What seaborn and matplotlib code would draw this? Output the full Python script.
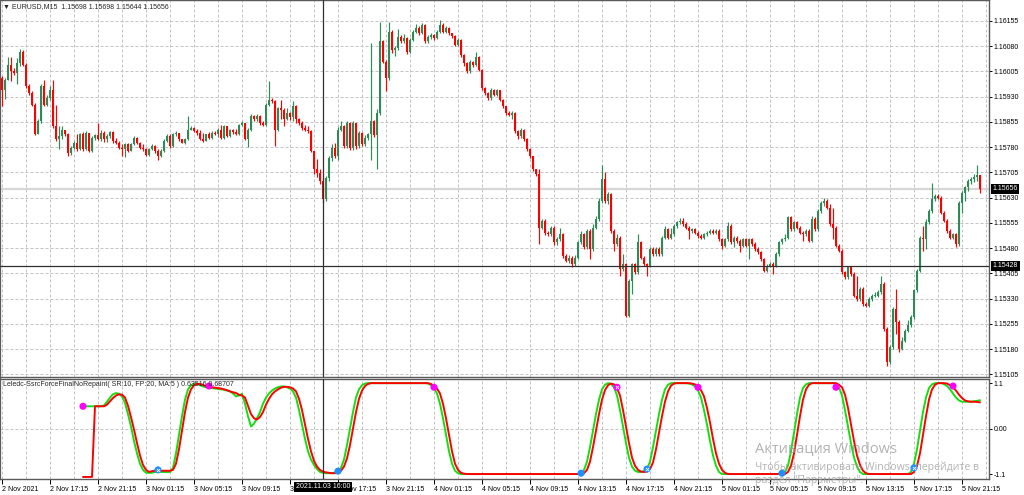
import matplotlib
matplotlib.use("Agg")
import matplotlib.pyplot as plt
import numpy as np
import pandas as pd
import seaborn as sns

# ---- price data: EURUSD M15, values in 1e-5 above 1.15000 ----
FIRST_OPEN = 985
close_pts = [
    951, 980, 1025, 1005, 1000, 1030, 1064, 1025, 961, 941,
    906, 818, 857, 961, 906, 926, 951, 842, 803, 813,
    832, 818, 763, 778, 793, 773, 818, 773, 822, 768,
    808, 815, 803, 822, 803, 813, 824, 798, 793, 778,
    773, 788, 768, 788, 808, 793, 778, 773, 758, 773,
    783, 768, 753, 768, 798, 813, 783, 818, 822, 803,
    793, 803, 832, 837, 827, 822, 803, 798, 818, 808,
    822, 818, 832, 808, 842, 813, 832, 825, 818, 847,
    852, 803, 832, 872, 862, 872, 852, 847, 906, 921,
    916, 832, 896, 891, 862, 880, 870, 901, 862, 852,
    837, 832, 827, 768, 714, 704, 679, 625,
    689, 748, 778, 753, 832, 842, 783, 852, 778, 852,
    783, 822, 788, 808, 818, 857, 817, 881, 1094, 1034,
    985, 1123, 1069, 1074, 1108, 1094, 1104, 1064, 1099, 1123,
    1133, 1118, 1143, 1094, 1108, 1113, 1104, 1123, 1143, 1123,
    1133, 1118, 1110, 1084, 1099, 1054, 1029, 1005, 1034, 1024,
    1049, 1010, 955, 940, 926, 951, 936, 949, 921, 901,
    881, 876, 881, 827, 812, 832, 803, 773, 753, 714,
    699, 541,
    561, 526, 521, 541, 497, 506, 521, 457, 442, 452,
    432, 452, 497, 521, 482, 531, 477, 541, 566, 620,
    684, 620, 640, 531, 492, 511, 418, 432, 279, 383,
    432, 408, 497, 452, 432, 428, 477, 462, 477, 462,
    511, 536, 511, 521, 546, 556, 561, 551, 541, 531,
    536, 526, 516, 511, 521, 526, 531, 526, 531, 506,
    487, 506, 546, 497, 511, 501, 487, 506, 487, 506,
    492, 477, 467, 447, 413, 428, 433, 428, 462, 497,
    506, 511, 571, 536, 556, 541, 526, 521, 531, 502,
    566, 536, 590, 615, 620, 600, 551, 541, 487, 472,
    408, 393, 423, 403, 339, 329, 359, 314, 309, 329,
    339, 339, 349, 373, 240, 141, 186, 299, 260, 181,
    205, 235, 250, 275, 354, 413, 511, 506, 556, 590,
    625, 635, 630, 585, 561, 531, 511, 521, 492, 615,
    645, 660, 679, 684, 690, 698, 656,
]
high_pts = [
    990, 985, 1049, 1049, 1015, 1045, 1071, 1069, 1030, 966,
    946, 911, 862, 966, 980, 936, 961, 980, 906, 842,
    842, 832, 822, 783, 798, 818, 822, 824, 827, 795,
    813, 820, 852, 832, 827, 818, 827, 827, 808, 798,
    788, 793, 791, 791, 813, 811, 795, 788, 778, 778,
    788, 785, 773, 773, 803, 818, 818, 822, 827, 820,
    805, 808, 872, 842, 840, 834, 832, 822, 820, 824,
    827, 829, 837, 847, 847, 844, 834, 835, 834, 850,
    857, 850, 837, 877, 874, 877, 874, 857, 911, 975,
    926, 921, 899, 921, 896, 896, 885, 916, 906, 867,
    857, 847, 842, 832, 745, 745, 715, 690,
    695, 755, 790, 793, 840, 857, 845, 857, 855, 857,
    823, 827, 825, 815, 822, 1089, 860, 893, 1153, 1098,
    1040, 1153, 1128, 1080, 1130, 1112, 1115, 1108, 1103, 1128,
    1146, 1140, 1150, 1145, 1112, 1118, 1115, 1128, 1158, 1148,
    1140, 1138, 1120, 1112, 1103, 1100, 1056, 1032, 1040, 1036,
    1062, 1052, 1012, 958, 945, 956, 954, 954, 951, 924,
    903, 886, 886, 883, 830, 837, 834, 806, 776, 755,
    716, 714,
    566, 565, 530, 546, 546, 512, 541, 526, 462, 458,
    457, 458, 502, 531, 526, 536, 536, 551, 575, 630,
    726, 706, 648, 645, 536, 521, 516, 462, 437, 388,
    437, 437, 521, 502, 457, 437, 482, 482, 482, 482,
    516, 546, 541, 541, 551, 561, 570, 570, 556, 545,
    541, 541, 531, 521, 526, 531, 536, 536, 536, 536,
    511, 511, 556, 551, 516, 516, 506, 511, 511, 511,
    511, 497, 482, 472, 452, 433, 438, 438, 467, 502,
    511, 521, 576, 576, 561, 561, 546, 531, 536, 536,
    576, 571, 595, 620, 630, 625, 610, 600, 546, 492,
    477, 413, 428, 428, 408, 398, 364, 364, 319, 334,
    344, 349, 354, 398, 378, 245, 191, 304, 359, 265,
    215, 240, 265, 280, 359, 418, 516, 546, 566, 595,
    674, 640, 640, 635, 590, 566, 536, 526, 526, 620,
    650, 665, 684, 690, 700, 726, 698,
]
low_pts = [
    903, 924, 988, 975, 995, 966, 1020, 1020, 956, 936,
    901, 815, 818, 852, 901, 901, 921, 837, 798, 773,
    803, 813, 753, 758, 773, 768, 771, 768, 771, 765,
    765, 800, 801, 798, 795, 795, 808, 793, 788, 773,
    753, 751, 765, 768, 785, 788, 773, 768, 755, 753,
    770, 763, 743, 751, 765, 795, 778, 781, 813, 798,
    791, 790, 801, 830, 824, 817, 801, 795, 798, 805,
    805, 815, 811, 805, 805, 811, 811, 818, 815, 815,
    844, 801, 781, 827, 857, 859, 847, 844, 844, 903,
    911, 783, 827, 862, 842, 860, 860, 857, 852, 847,
    832, 827, 822, 765, 700, 690, 670, 615,
    620, 680, 740, 748, 743, 828, 778, 778, 770, 770,
    775, 778, 782, 784, 800, 743, 810, 714, 875, 1030,
    946, 980, 1060, 1050, 1068, 1088, 1088, 1058, 1060, 1095,
    1118, 1112, 1115, 1088, 1090, 1102, 1098, 1100, 1120, 1118,
    1118, 1112, 1105, 1080, 1080, 1048, 1020, 1000, 1000, 1019,
    1020, 1005, 950, 935, 921, 921, 931, 931, 916, 896,
    876, 871, 862, 822, 805, 807, 798, 768, 748, 709,
    694, 492,
    536, 520, 515, 515, 490, 490, 500, 450, 438, 437,
    425, 428, 447, 492, 477, 476, 447, 472, 536, 561,
    615, 615, 610, 526, 470, 487, 398, 413, 274, 274,
    344, 403, 403, 447, 427, 398, 423, 457, 457, 457,
    457, 506, 506, 506, 516, 541, 551, 546, 536, 506,
    526, 521, 511, 506, 506, 516, 521, 521, 521, 501,
    477, 482, 501, 492, 482, 496, 467, 482, 482, 447,
    487, 472, 462, 442, 408, 408, 423, 403, 423, 457,
    492, 501, 506, 531, 531, 536, 521, 502, 516, 497,
    497, 531, 531, 585, 605, 595, 546, 507, 482, 467,
    403, 388, 388, 398, 334, 324, 324, 309, 304, 304,
    324, 334, 334, 344, 235, 131, 136, 181, 225, 171,
    176, 200, 230, 245, 270, 349, 408, 472, 476, 551,
    585, 620, 625, 580, 556, 526, 506, 506, 482, 487,
    585, 620, 650, 670, 675, 680, 644,
]

# ---- indicator window (starts at bar 27) ----
IND_START = 27
green_line = (
    [0.54] * 7
    + [0.56, 0.65, 0.75, 0.83, 0.86, 0.84, 0.78, 0.62, 0.35, 0.05, -0.3, -0.6,
       -0.85, -1.0, -1.07, -1.07, -1.07]
    + [-1.05] * 6
    + [-0.95, -0.6, -0.15, 0.3, 0.7, 0.95, 1.05, 1.08, 1.08, 1.05, 1.02]
    + [1.0, 0.99, 0.98, 0.97, 0.96, 0.95, 0.94, 0.92]
    + [0.9, 0.85, 0.78, 0.8, 0.84, 0.6, 0.3, 0.05, 0.12, 0.25, 0.4, 0.6, 0.75,
       0.85, 0.92, 0.97, 1.0, 1.02, 1.02, 1.0, 0.97, 0.9, 0.75, 0.45, 0.1,
       -0.25, -0.55, -0.75, -0.88, -0.98, -1.05, -1.07, -1.08, -1.08, -1.08,
       -1.06, -1.03, -0.95, -0.75, -0.4, 0.0, 0.4, 0.75, 0.95, 1.05, 1.09]
    + [1.1] * 20
    + [1.09, 1.05, 0.98, 0.85, 0.6, 0.25, -0.15, -0.55, -0.85, -1.02, -1.08]
    + [-1.1] * 40
    + [-1.08, -1.0, -0.8, -0.45, -0.05, 0.35, 0.7, 0.95, 1.06, 1.1, 1.08, 1.0,
       0.8, 0.45, 0.05, -0.35, -0.7, -0.92, -1.02, -1.05, -1.05, -1.03, -0.98,
       -0.8, -0.45, -0.05, 0.35, 0.7, 0.95, 1.06]
    + [1.1] * 6 + [1.09]
    + [1.07, 1.02, 0.92, 0.75, 0.45, 0.1, -0.3, -0.65, -0.9, -1.05]
    + [-1.1] * 21
    + [-1.05, -0.9, -0.55, -0.1, 0.35, 0.75, 0.98, 1.07]
    + [1.1] * 9
    + [1.07, 1.0, 0.8, 0.45, 0.05, -0.35, -0.7, -0.92, -1.05]
    + [-1.1] * 16
    + [-1.05, -0.85, -0.5, -0.05, 0.4, 0.75, 0.98, 1.07]
    + [1.1] * 3
    + [1.08, 1.03, 0.95, 0.85, 0.75, 0.68]
    + [0.65] * 4
    + [0.66, 0.67, 0.687]
)
red_line = (
    [-1.17] * 4
    + [0.54] * 4
    + [0.58, 0.66, 0.74, 0.80, 0.83, 0.82, 0.75, 0.55, 0.28, -0.02, -0.35,
       -0.65, -0.88, -1.0, -1.05, -1.03]
    + [-1.02] * 6
    + [-1.0, -0.85, -0.5, -0.05, 0.4, 0.75, 0.95, 1.05, 1.08, 1.08, 1.06]
    + [1.02, 1.01, 1.0, 0.99, 0.98, 0.97, 0.95, 0.93]
    + [0.9, 0.88, 0.86, 0.82, 0.80, 0.75, 0.55, 0.35, 0.25, 0.22, 0.28, 0.4,
       0.58, 0.72, 0.83, 0.9, 0.95, 0.99, 1.01, 1.01, 1.0, 0.97, 0.9, 0.72,
       0.45, 0.1, -0.25, -0.55, -0.78, -0.92, -1.0, -1.04, -1.06, -1.07, -1.08,
       -1.08, -1.07, -1.02, -0.92, -0.72, -0.4, 0.0, 0.4, 0.72, 0.92, 1.03, 1.08]
    + [1.1] * 20
    + [1.08, 1.03, 0.97, 0.85, 0.6, 0.25, -0.15, -0.55, -0.85, -1.0, -1.07, -1.09]
    + [-1.1] * 39
    + [-1.08, -1.0, -0.8, -0.45, -0.05, 0.35, 0.7, 0.93, 1.05, 1.09, 1.07, 0.98,
       0.8, 0.45, 0.05, -0.35, -0.7, -0.9, -1.0, -1.04, -1.05, -1.04, -0.98,
       -0.82, -0.5, -0.1, 0.3, 0.65, 0.9, 1.04, 1.09]
    + [1.1] * 5
    + [1.09, 1.07, 1.02, 0.93, 0.78, 0.5, 0.15, -0.25, -0.6, -0.85, -1.0, -1.07]
    + [-1.1] * 20
    + [-1.05, -0.9, -0.6, -0.15, 0.3, 0.7, 0.95, 1.06]
    + [1.1] * 9
    + [1.06, 1.0, 0.82, 0.5, 0.1, -0.3, -0.65, -0.88, -1.02, -1.08]
    + [-1.1] * 15
    + [-1.05, -0.9, -0.6, -0.15, 0.3, 0.7, 0.95, 1.06]
    + [1.1] * 3
    + [1.09, 1.05, 1.0, 0.92, 0.82, 0.74, 0.68, 0.66, 0.65, 0.65, 0.645, 0.635]
)
sell_bars = [27, 69, 144, 205, 232, 278, 317]
sell_vals = [0.54, 1.03, 1.0, 1.0, 1.0, 1.0, 1.03]
buy_bars = [52, 112, 193, 215, 260, 304]
buy_vals = [-1.0, -1.03, -1.08, -0.98, -1.08, -0.95]
marked_bars = [52, 205, 215, 304]
marked_vals = [-1.0, 1.0, -0.98, -0.95]

price_levels = [1.16155, 1.16080, 1.16005, 1.15930, 1.15855, 1.15780, 1.15705,
                1.15630, 1.15555, 1.15480, 1.15405, 1.15330, 1.15255, 1.15180,
                1.15105]
time_labels = ["2 Nov 2021", "2 Nov 17:15", "2 Nov 21:15", "3 Nov 01:15",
               "3 Nov 05:15", "3 Nov 09:15", "3 Nov 13:15", "3 Nov 17:15",
               "3 Nov 21:15", "4 Nov 01:15", "4 Nov 05:15", "4 Nov 09:15",
               "4 Nov 13:15", "4 Nov 17:15", "4 Nov 21:15", "5 Nov 01:15",
               "5 Nov 05:15", "5 Nov 09:15", "5 Nov 13:15", "5 Nov 17:15",
               "5 Nov 21:15"]
BID = 1.15656
CROSS_PRICE = 1.15428
CROSS_BAR = 107

BULL = "#2e8b57"
BEAR = "#ff0000"
GRID = "#c4c4c4"
FRAME = "#5a5a5a"

sns.set_style("white")
plt.rcParams["font.family"] = ["Liberation Sans", "DejaVu Sans"]

W, H = 1024, 495
fig = plt.figure(figsize=(W / 100, H / 100), dpi=100)
ax1 = fig.add_axes([0, (H - 377) / H, 989 / W, 377 / H])
ax2 = fig.add_axes([0, (H - 479) / H, 989 / W, 100 / H])

to_price = lambda v: 1.15 + np.asarray(v, dtype=float) / 1e5
close = to_price(close_pts)
opens = np.r_[to_price([FIRST_OPEN]), close[:-1]]
high = np.maximum.reduce([to_price(high_pts), opens, close])
low = np.minimum.reduce([to_price(low_pts), opens, close])
bars = np.arange(len(close))
colors = np.where(close >= opens, BULL, BEAR)

xlim = (-2 / 3, 329.0)
grid_x = np.arange(0, 329, 8)
dash = (0, (3, 2))

# ---- main price window ----
for gx in grid_x:
    ax1.axvline(gx, color=GRID, lw=0.72, ls=dash, zorder=0)
for lvl in price_levels:
    ax1.axhline(lvl, color=GRID, lw=0.72, ls=dash, zorder=0)
ax1.axhline(BID, color="#d6d6d6", lw=1.6, zorder=1)

ax1.vlines(bars, low, high, colors=colors, lw=0.85, zorder=3)
body_lo = np.minimum(opens, close)
body_h = np.maximum(np.abs(close - opens), 0.000018)
ax1.bar(bars, body_h, bottom=body_lo, width=0.62, color=colors, lw=0, zorder=4)

ax1.axhline(CROSS_PRICE, color="#303030", lw=0.9, zorder=5)
ax1.axvline(CROSS_BAR, color="#303030", lw=0.9, zorder=5)

ax1.set_xlim(*xlim)
ax1.set_ylim(1.15097, 1.16217)
ax1.set_xticks([])
ax1.yaxis.tick_right()
ax1.set_yticks(price_levels)
ax1.set_yticklabels([f"{p:.5f}" for p in price_levels])
ax1.tick_params(axis="y", which="both", right=True, left=False, length=2,
                width=0.7, pad=1.5, labelsize=5, colors="black")
for side, sp in ax1.spines.items():
    sp.set_visible(True)
    sp.set_color(FRAME)
    sp.set_linewidth(1.0)
ax1.spines["left"].set_linewidth(1.6)

ax1.text(3 / 989, 1 - 7 / 377, "\u25bc EURUSD,M15  1.15698 1.15698 1.15644 1.15656",
         transform=ax1.transAxes, fontsize=5, va="center", ha="left")

for price, txt in [(BID, "1.15656"), (CROSS_PRICE, "1.15428")]:
    ax1.annotate(txt, xy=(1, price), xycoords=("axes fraction", "data"),
                 xytext=(2.6, 0), textcoords="offset points", ha="left",
                 va="center", fontsize=5, color="white", annotation_clip=False,
                 bbox=dict(boxstyle="square,pad=0.22", fc="black", ec="none"),
                 zorder=10)

# ---- indicator window ----
ind = pd.DataFrame({
    "bar": np.arange(IND_START, IND_START + len(green_line)),
    "green": green_line,
    "red": red_line,
})
for gx in grid_x:
    ax2.axvline(gx, color=GRID, lw=0.72, ls=dash, zorder=0)
ax2.axhline(0.0, color=GRID, lw=0.72, ls=dash, zorder=0)

sns.lineplot(data=ind, x="bar", y="green", color="#10e010", lw=1.4, ax=ax2, zorder=3)
sns.lineplot(data=ind, x="bar", y="red", color="#ff0000", lw=1.4, ax=ax2, zorder=4)
sns.scatterplot(x=sell_bars, y=sell_vals, color="#ff00ff", s=26, edgecolor="none",
                ax=ax2, zorder=6)
sns.scatterplot(x=buy_bars, y=buy_vals, color="#1e8fff", s=26, edgecolor="none",
                ax=ax2, zorder=6)
ax2.scatter(marked_bars, marked_vals, marker="x", s=5, color="white", lw=0.6,
            zorder=7)
ax2.axvline(CROSS_BAR, color="#303030", lw=0.9, zorder=5)

ax2.set_xlim(*xlim)
ax2.set_ylim(-1.22, 1.20)
ax2.set_xlabel("")
ax2.set_ylabel("")
ax2.yaxis.tick_right()
ax2.set_yticks([1.1, 0.0, -1.1])
ax2.set_yticklabels(["1.1", "0.00", "-1.1"])
ax2.tick_params(axis="y", right=True, left=False, length=2, width=0.7, pad=1.5,
                labelsize=5, colors="black")
ax2.set_xticks(np.arange(len(time_labels)) * 16)
ax2.set_xticklabels(time_labels)
ax2.tick_params(axis="x", bottom=True, length=3.5, width=0.7, pad=1.5,
                labelsize=5, colors="black")
for lab in ax2.get_xticklabels():
    lab.set_ha("left")
for side, sp in ax2.spines.items():
    sp.set_visible(True)
    sp.set_color(FRAME)
    sp.set_linewidth(1.0)
ax2.spines["left"].set_linewidth(1.6)
ax2.text(3 / 989, 0.94,
         "Leledc-SsrcForceFinalNoRepaint( SR:10, FP:20, MA:5 ) 0.63516 0.68707",
         transform=ax2.transAxes, fontsize=5, va="center", ha="left", zorder=8)

fig.text(323 / W, (H - 487) / H, "2021.11.03 16:00", ha="center", va="center",
         fontsize=5, color="white", zorder=20,
         bbox=dict(boxstyle="square,pad=0.2", fc="black", ec="none"))

# Windows activation watermark
wm = dict(color="#9a9a9a", alpha=0.75, ha="left", va="center", zorder=30,
          family=["Open Sans", "DejaVu Sans"])
fig.text(755 / W, (H - 449) / H, "Активация Windows", fontsize=10.5, **wm)
fig.text(755 / W, (H - 467) / H, "Чтобы активировать Windows, перейдите в",
         fontsize=7.6, **wm)
fig.text(755 / W, (H - 481) / H, "раздел \"Параметры\".", fontsize=7.6, **wm)

fig.savefig("out.png", dpi=100)
